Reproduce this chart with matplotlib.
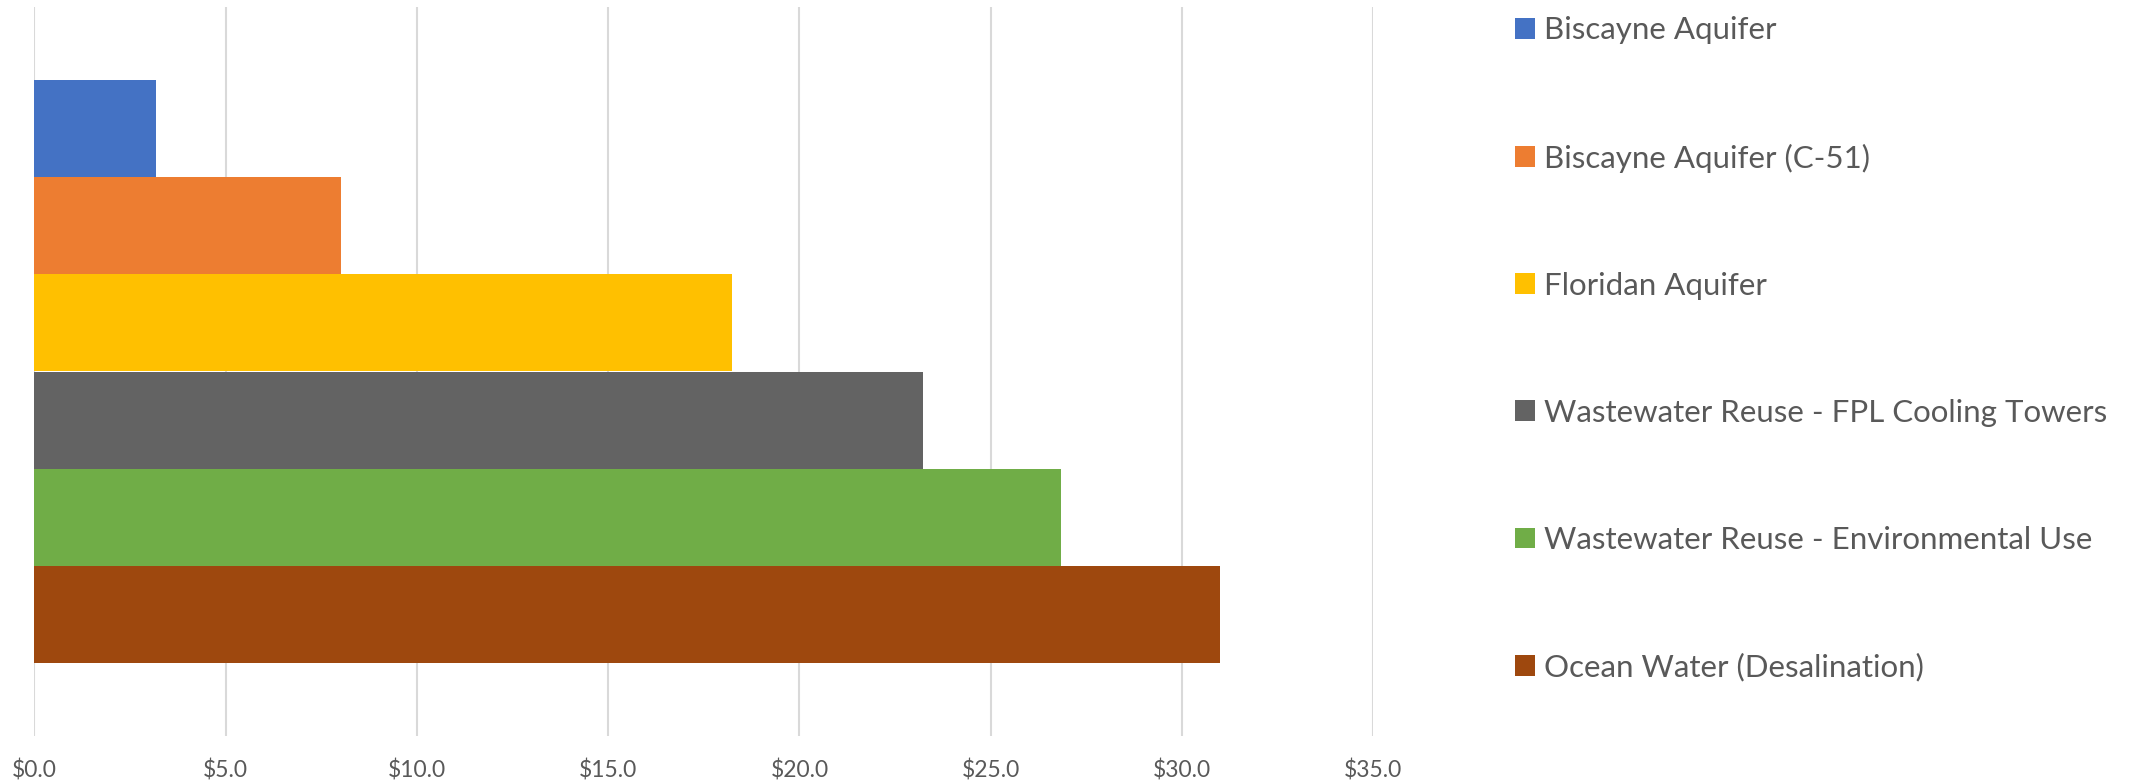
import matplotlib.pyplot as plt
from matplotlib.patches import Patch

sources = ["Biscayne Aquifer", "Biscayne Aquifer (C-51)", "Floridan Aquifer",
           "Wastewater Reuse - FPL Cooling Towers", "Wastewater Reuse - Environmental Use",
           "Ocean Water (Desalination)"]
cost = [3.19, 8.02, 18.25, 23.22, 26.84, 31.0]
colors = ["#4472C4", "#ED7D31", "#FFC000", "#636363", "#70AD47", "#9E480E"]
xticks = [0, 5, 10, 15, 20, 25, 30, 35]

plt.rcParams['font.family'] = ['Lato', 'DejaVu Sans']
txt = "#595959"

fig = plt.figure(figsize=(21.29, 7.83), dpi=100)
ax = fig.add_axes([34.3 / 2129, 47 / 783, 1339 / 2129, 729 / 783])

for i, (v, c) in enumerate(zip(cost, colors)):
    ax.barh(i, v, height=1.0, color=c, zorder=3)

ax.set_xlim(0, 35)
ax.set_ylim(5.5 + 0.745, -0.5 - 0.745)
ax.set_xticks(xticks)
ax.set_xticklabels([f"${t:.1f}" for t in xticks], color=txt, fontsize=16.5)
ax.set_yticks([])
ax.tick_params(axis='x', length=0, pad=17)
ax.grid(axis='x', color="#D9D9D9", linewidth=1.5, zorder=0)
for s in ax.spines.values():
    s.set_visible(False)

# legend on the right, one row per source
handles = [Patch(facecolor=c, edgecolor='none') for c in colors]
leg = fig.legend(handles, sources, loc='center left', bbox_to_anchor=(1515 / 2129, (783 - 349) / 783),
                 frameon=False, fontsize=22.5, handlelength=0.64, handleheight=0.64,
                 handletextpad=0.3, labelspacing=3.17, borderpad=0, borderaxespad=0)
for t in leg.get_texts():
    t.set_color(txt)

fig.savefig("out.png", dpi=100)
